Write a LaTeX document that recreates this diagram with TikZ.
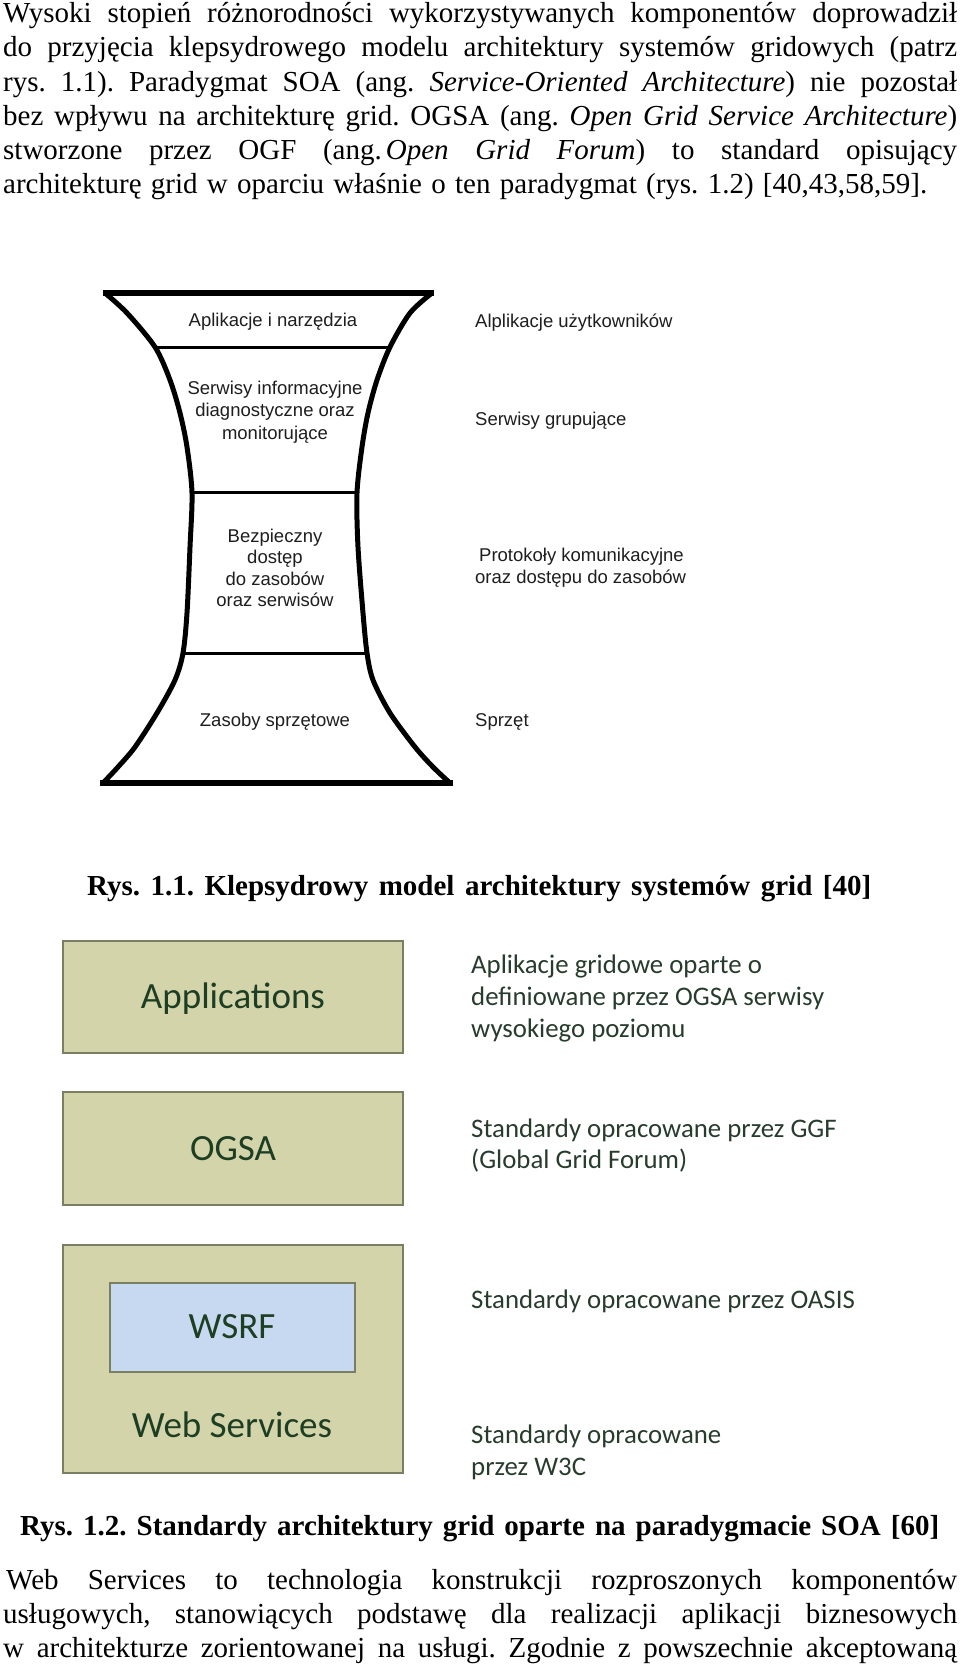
\documentclass[tikz,border=0pt]{standalone}
\usepackage{fontspec}
\setmainfont{Liberation Serif}
\newfontfamily\arialf{Liberation Sans}
\newfontfamily\calib{Carlito}
\definecolor{boxfill}{RGB}{211,212,170}
\definecolor{boxdraw}{RGB}{122,126,98}
\definecolor{wsrffill}{RGB}{198,217,240}
\definecolor{lbl}{RGB}{30,62,36}
\definecolor{rtxt}{RGB}{40,60,45}
\definecolor{hgtxt}{RGB}{30,30,30}
\tikzset{
  bodyline/.style={anchor=base west, inner sep=0pt, font=\fontsize{29bp}{34bp}\selectfont\frenchspacing},
  captline/.style={anchor=base west, inner sep=0pt, font=\fontsize{29bp}{34bp}\selectfont\bfseries\frenchspacing},
  hgc/.style={anchor=base, inner sep=0pt, font=\arialf\fontsize{18.5bp}{22bp}\selectfont, text=hgtxt},
  hgr/.style={anchor=base west, inner sep=0pt, font=\arialf\fontsize{18.5bp}{22bp}\selectfont, text=hgtxt},
  biglbl/.style={anchor=base, inner sep=0pt, font=\calib\fontsize{37bp}{40bp}\selectfont, text=lbl},
  rtext/.style={anchor=base west, inner sep=0pt, font=\calib\fontsize{26.8bp}{30bp}\selectfont, text=rtxt},
  stdbox/.style={fill=boxfill, draw=boxdraw, line width=1.5bp},
  wsrfbox/.style={fill=wsrffill, draw=boxdraw, line width=1.5bp},
  hgside/.style={line width=5bp, draw=black},
  hgbar/.style={line width=6bp, draw=black},
  hgsep/.style={line width=3bp, draw=black}
}
\begin{document}
\begin{tikzpicture}[x=1bp,y=-1bp]
\useasboundingbox (0,0) rectangle (960,1679);
\fill[white] (0,0) rectangle (960,1679);

% ---- top paragraph ----
\node[bodyline] (t1) at (3,23) {\makebox[954bp][s]{Wysoki stopień różnorodności wykorzystywanych komponentów doprowadził}};
\node[bodyline] (t2) at (3,57) {\makebox[954bp][s]{do przyjęcia klepsydrowego modelu architektury systemów gridowych (patrz}};
\node[bodyline] (t3) at (3,91) {\makebox[954bp][s]{rys. 1.1). Paradygmat SOA (ang. \textit{Service-Oriented Architecture}) nie pozostał}};
\node[bodyline] (t4) at (3,125) {\makebox[954bp][s]{bez wpływu na architekturę grid. OGSA (ang. \textit{Open Grid Service Architecture})}};
\node[bodyline] (t5) at (3,159) {\makebox[954bp][s]{stworzone przez OGF (ang.\hspace{4bp}\textit{Open Grid Forum}) to standard opisujący}};
\node[bodyline] (t6) at (3,193) {\makebox[924bp][s]{architekturę grid w oparciu właśnie o ten paradygmat (rys. 1.2) [40,43,58,59].}};

% ---- hourglass ----
\draw[hgside] plot[smooth] coordinates {(105,293) (127,313) (155,347) (170,380) (180,413) (187,447) (192,493) (190,547) (187,613) (183,653) (175,680) (157,713) (135,747) (118,767) (103,783)};
\draw[hgside] plot[smooth] coordinates {(432,293) (410,313) (390,347) (377,380) (368,413) (362,447) (357,493) (358,547) (363,613) (367,653) (373,680) (390,713) (415,747) (433,767) (450,783)};
\draw[hgbar] (103,293) -- (434,293);
\draw[hgbar] (100,783) -- (453,783);
\draw[hgsep] (155,347) -- (390,347);
\draw[hgsep] (192,492) -- (357,492);
\draw[hgsep] (183,653) -- (367,653);

\node[hgc] (h1) at (273,326) {Aplikacje i narzędzia};
\node[hgc] (h2a) at (275,394) {Serwisy informacyjne};
\node[hgc] (h2b) at (275,416.5) {diagnostyczne oraz};
\node[hgc] (h2c) at (275,439) {monitorujące};
\node[hgc] (h3a) at (275,542) {Bezpieczny};
\node[hgc] (h3b) at (275,563.5) {dostęp};
\node[hgc] (h3c) at (275,585) {do zasobów};
\node[hgc] (h3d) at (275,606.5) {oraz serwisów};
\node[hgc] (h4) at (275,726) {Zasoby sprzętowe};

\node[hgr] (r1) at (475,327) {Alplikacje użytkowników};
\node[hgr] (r2) at (475,425) {Serwisy grupujące};
\node[hgr] (r3a) at (479,561) {Protokoły komunikacyjne};
\node[hgr] (r3b) at (475,583) {oraz dostępu do zasobów};
\node[hgr] (r4) at (475,726) {Sprzęt};

% ---- caption 1.1 ----
\node[captline] (c1) at (87,895) {\makebox[784bp][s]{Rys. 1.1. Klepsydrowy model architektury systemów grid [40]}};

% ---- layered figure ----
\path[stdbox] (63,941) rectangle (403,1053);
\path[stdbox] (63,1092) rectangle (403,1205);
\path[stdbox] (63,1245) rectangle (403,1473);
\path[wsrfbox] (110,1283) rectangle (355,1372);

\node[biglbl] (app) at (233,1008) {Applications};
\node[biglbl] (ogsa) at (233,1160) {OGSA};
\node[biglbl] (wsrf) at (232,1338) {WSRF};
\node[biglbl] (ws) at (232,1437) {Web Services};

\node[rtext] (a1) at (471,973) {Aplikacje gridowe oparte o};
\node[rtext] (a2) at (471,1005) {definiowane przez OGSA serwisy};
\node[rtext] (a3) at (471,1037) {wysokiego poziomu};
\node[rtext] (g1) at (471,1137) {Standardy opracowane przez GGF};
\node[rtext] (g2) at (471,1168) {(Global Grid Forum)};
\node[rtext] (o1) at (471,1308) {Standardy opracowane przez OASIS};
\node[rtext] (w1) at (471,1443) {Standardy opracowane};
\node[rtext] (w2) at (471,1475) {przez W3C};

% ---- caption 1.2 ----
\node[captline] (c2) at (20,1535) {\makebox[919bp][s]{Rys. 1.2. Standardy architektury grid oparte na paradygmacie SOA [60]}};

% ---- bottom paragraph ----
\node[bodyline] (b1) at (6,1589) {\makebox[951bp][s]{Web Services to technologia konstrukcji rozproszonych komponentów}};
\node[bodyline] (b2) at (3,1623) {\makebox[954bp][s]{usługowych, stanowiących podstawę dla realizacji aplikacji biznesowych}};
\node[bodyline] (b3) at (3,1657) {\makebox[954bp][s]{w architekturze zorientowanej na usługi. Zgodnie z powszechnie akceptowaną}};
\end{tikzpicture}
\end{document}
